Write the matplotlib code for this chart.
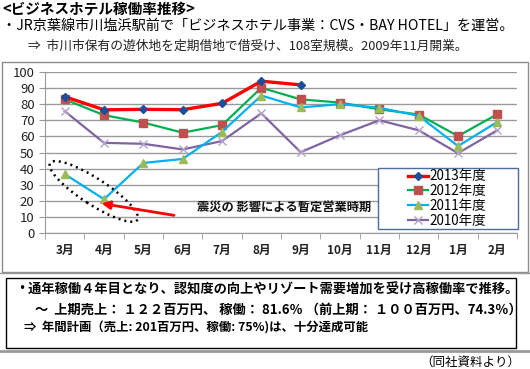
import numpy as np
import matplotlib.pyplot as plt
from matplotlib.patches import Ellipse, Rectangle
from matplotlib.lines import Line2D
from matplotlib.transforms import ScaledTranslation

plt.rcParams['font.family'] = ['Noto Sans CJK JP', 'DejaVu Sans']

# データ（稼働率 %）
months = ['3月', '4月', '5月', '6月', '7月', '8月', '9月', '10月', '11月', '12月', '1月', '2月']
fy2013 = [84.7, 76.5, 76.8, 76.6, 80.5, 94.3, 92.0]
fy2012 = [83.0, 73.2, 68.6, 62.3, 67.0, 90.2, 83.0, 81.0, 76.8, 73.6, 60.2, 73.8]
fy2011 = [36.6, 21.0, 43.5, 46.0, 62.8, 85.4, 78.0, 80.0, 77.8, 72.8, 54.0, 69.0]
fy2010 = [75.7, 56.0, 55.4, 51.9, 57.1, 74.3, 50.2, 60.7, 70.0, 63.8, 49.6, 63.8]
years = ['2013年度', '2012年度', '2011年度', '2010年度']

W, H = 530, 369
fig = plt.figure(figsize=(W / 100, H / 100), dpi=100)

def fx(px):
    return px / W

def fy(py):
    return 1 - py / H

# 見出し
fig.text(fx(2), fy(8.5), '<ビジネスホテル稼働率推移>', fontsize=10.5, fontweight='bold', va='center')
fig.text(fx(2), fy(26), '・JR京葉線市川塩浜駅前で「ビジネスホテル事業：CVS・BAY HOTEL」を運営。',
         fontsize=10.2, va='center')
fig.text(fx(28), fy(46), '⇒  市川市保有の遊休地を定期借地で借受け、108室規模。2009年11月開業。',
         fontsize=9.2, va='center', color='#222222')

# グラフ枠
fig.patches.append(Rectangle((fx(2), fy(272)), fx(526), 210 / H, transform=fig.transFigure,
                             fill=False, edgecolor='#8c8c8c', lw=1))

ax = fig.add_axes([fx(45), fy(233), fx(517 - 45), (233 - 72) / H])
x = np.arange(len(months))

ax.plot(x[:len(fy2012)], fy2012, color='#00b050', lw=1.6, marker='s', ms=5.5,
        mfc='#c0504d', mec='#c0504d', label=years[1], zorder=3)
ax.plot(x[:len(fy2011)], fy2011, color='#00b0f0', lw=1.6, marker='^', ms=6,
        mfc='#9bbb59', mec='#9bbb59', label=years[2], zorder=3)
ax.plot(x[:len(fy2010)], fy2010, color='#8064a2', lw=1.6, marker='x', ms=5.5,
        mfc='#b3a2c7', mec='#b3a2c7', mew=1, label=years[3], zorder=2)
ax.plot(x[:len(fy2013)], fy2013, color='#ff0000', lw=2.4, marker='D', ms=4.5,
        mfc='#1f4e99', mec='#1f4e99', label=years[0], zorder=4)

ax.set_xlim(-0.5, len(months) - 0.5)
ax.set_ylim(0, 100)
ax.set_yticks(range(0, 101, 10))
ax.yaxis.grid(True, color='#9a9a9a', lw=1)
ax.set_axisbelow(True)
ax.set_xticks(x)
ax.set_xticklabels(months, fontsize=8.5, fontweight='bold', color='#222222')
ax.set_xticks(np.arange(-0.5, len(months), 1), minor=True)
ax.tick_params(axis='x', which='major', length=0, pad=8)
ax.tick_params(axis='x', which='minor', length=4, color='#9a9a9a', direction='out')
ax.tick_params(axis='y', length=4, color='#9a9a9a', labelsize=9.5, labelcolor='#222222')
for s in ['top', 'right']:
    ax.spines[s].set_visible(False)
for s in ['left', 'bottom']:
    ax.spines[s].set_color('#9a9a9a')

# 震災の影響
trans = fig.dpi_scale_trans + ScaledTranslation(0.74, 25.8, ax.transData)
ax.add_patch(Ellipse((0, 0), 1.04, 0.26, angle=-33, transform=trans, fill=False,
                     edgecolor='black', lw=1.8, ls=(0, (0.8, 1.6)), clip_on=False, zorder=5))
ax.annotate('', xy=(0.87, 18.6), xytext=(2.85, 10.7),
            arrowprops=dict(arrowstyle='-|>', color='red', lw=2, mutation_scale=12), zorder=5)
ax.text(3.37, 16, '震災の 影響による暫定営業時期', fontsize=8.8, fontweight='bold', va='center',
        color='#111111')

# 凡例
fig.patches.append(Rectangle((fx(378), fy(229)), fx(140), 61 / H, transform=fig.transFigure,
                             facecolor='white', edgecolor='#4f6d9a', lw=1, zorder=6))
handles, labels = ax.get_legend_handles_labels()
order = [3, 0, 1, 2]
leg = fig.legend([handles[i] for i in order], [labels[i] for i in order],
                 loc='center left', bbox_to_anchor=(fx(408), fy(198.5)), frameon=False,
                 fontsize=9.7, handlelength=1.5, handletextpad=0.1, labelspacing=0.06,
                 borderpad=0, borderaxespad=0)
leg.set_zorder(7)

# 下のコメント
fig.add_artist(Line2D([0, 1], [fy(273), fy(273)], color='#9a9a9a', lw=1))
fig.add_artist(Line2D([0, 1], [fy(351), fy(351)], color='#9a9a9a', lw=2))
fig.patches.append(Rectangle((fx(6), fy(348)), fx(510), 70 / H, transform=fig.transFigure,
                             facecolor='white', edgecolor='black', lw=1))
fig.text(fx(15), fy(290), '・通年稼働４年目となり、認知度の向上やリゾート需要増加を受け高稼働率で推移。',
         fontsize=9.5, fontweight='bold', va='center')
fig.text(fx(35), fy(310), '～  上期売上： １２２百万円、 稼働： 81.6％ （前上期： １００百万円、74.3％）',
         fontsize=9.5, fontweight='bold', va='center')
fig.text(fx(24), fy(328), '⇒  年間計画（売上: 201百万円、稼働: 75%)は、十分達成可能',
         fontsize=8.9, fontweight='bold', va='center')
fig.text(fx(520), fy(362), '（同社資料より）', fontsize=9, ha='right', va='center')

fig.savefig('out.png', dpi=100)
